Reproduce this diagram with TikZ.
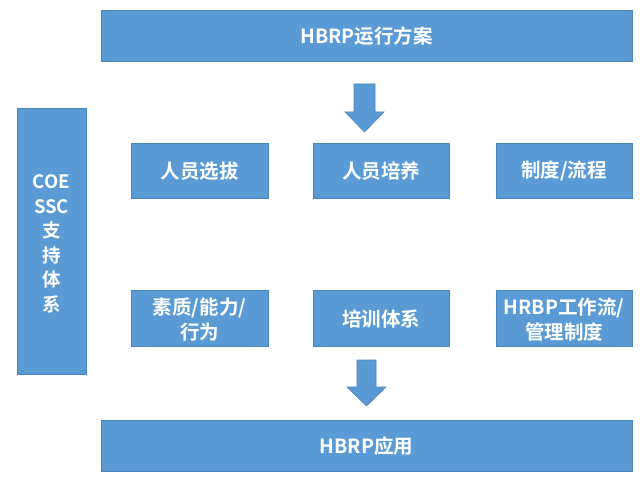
\documentclass[tikz,border=0pt]{standalone}
\usepackage{fontspec}
\setmainfont{Noto Sans CJK SC}
\newfontfamily\cjkb{Noto Sans CJK SC Bold}
\begin{document}
\begin{tikzpicture}[x=1pt,y=-1pt,
  blk/.style={draw=blueedge,fill=bluefill,line width=0.8pt},
  lbl/.style={text=white,font=\cjkb\fontsize{19.5}{25}\selectfont,align=center,inner sep=0pt},
  barrow/.style={fill=bluefill,draw=blueedge,line width=0.6pt}]
\definecolor{bluefill}{HTML}{5B9BD5}
\definecolor{blueedge}{HTML}{4A86BE}
\useasboundingbox (0,0) rectangle (640,481);
\fill[white] (0,0) rectangle (640,481);
% top & bottom bars
\draw[blk] (101,10) rectangle (632,61);
\node[lbl] (top) at (366.5,36) {HBRP运行方案};
\draw[blk] (101,420) rectangle (632,471);
\node[lbl] (bot) at (366.5,446) {HBRP应用};
% left column
\draw[blk] (17,108) rectangle (86,374);
\node[lbl,font=\cjkb\fontsize{18.5}{24.5}\selectfont] (left) at (51.5,244) {COE\\SSC\\支\\持\\体\\系};
% row 1
\draw[blk] (131,143) rectangle (268,198);
\node[lbl] (r1a) at (199.5,171) {人员选拔};
\draw[blk] (313,143) rectangle (449,198);
\node[lbl] (r1b) at (381,171) {人员培养};
\draw[blk] (496,143) rectangle (632,198);
\node[lbl] (r1c) at (564,171) {制度/流程};
% row 2
\draw[blk] (131,290) rectangle (268,346);
\node[lbl] (r2a) at (199.5,320) {素质/能力/\\行为};
\draw[blk] (313,290) rectangle (449,346);
\node[lbl] (r2b) at (381,319) {培训体系};
\draw[blk] (496,290) rectangle (632,346);
\node[lbl] (r2c) at (564,320) {HRBP工作流/\\管理制度};
% block arrows
\draw[barrow] (354,84) -- (375,84) -- (375,112) -- (384,112) -- (364.5,132) -- (345,112) -- (354,112) -- cycle;
\draw[barrow] (357,360) -- (376,360) -- (376,387) -- (386,387) -- (366.5,406) -- (347,387) -- (357,387) -- cycle;
\end{tikzpicture}
\end{document}
